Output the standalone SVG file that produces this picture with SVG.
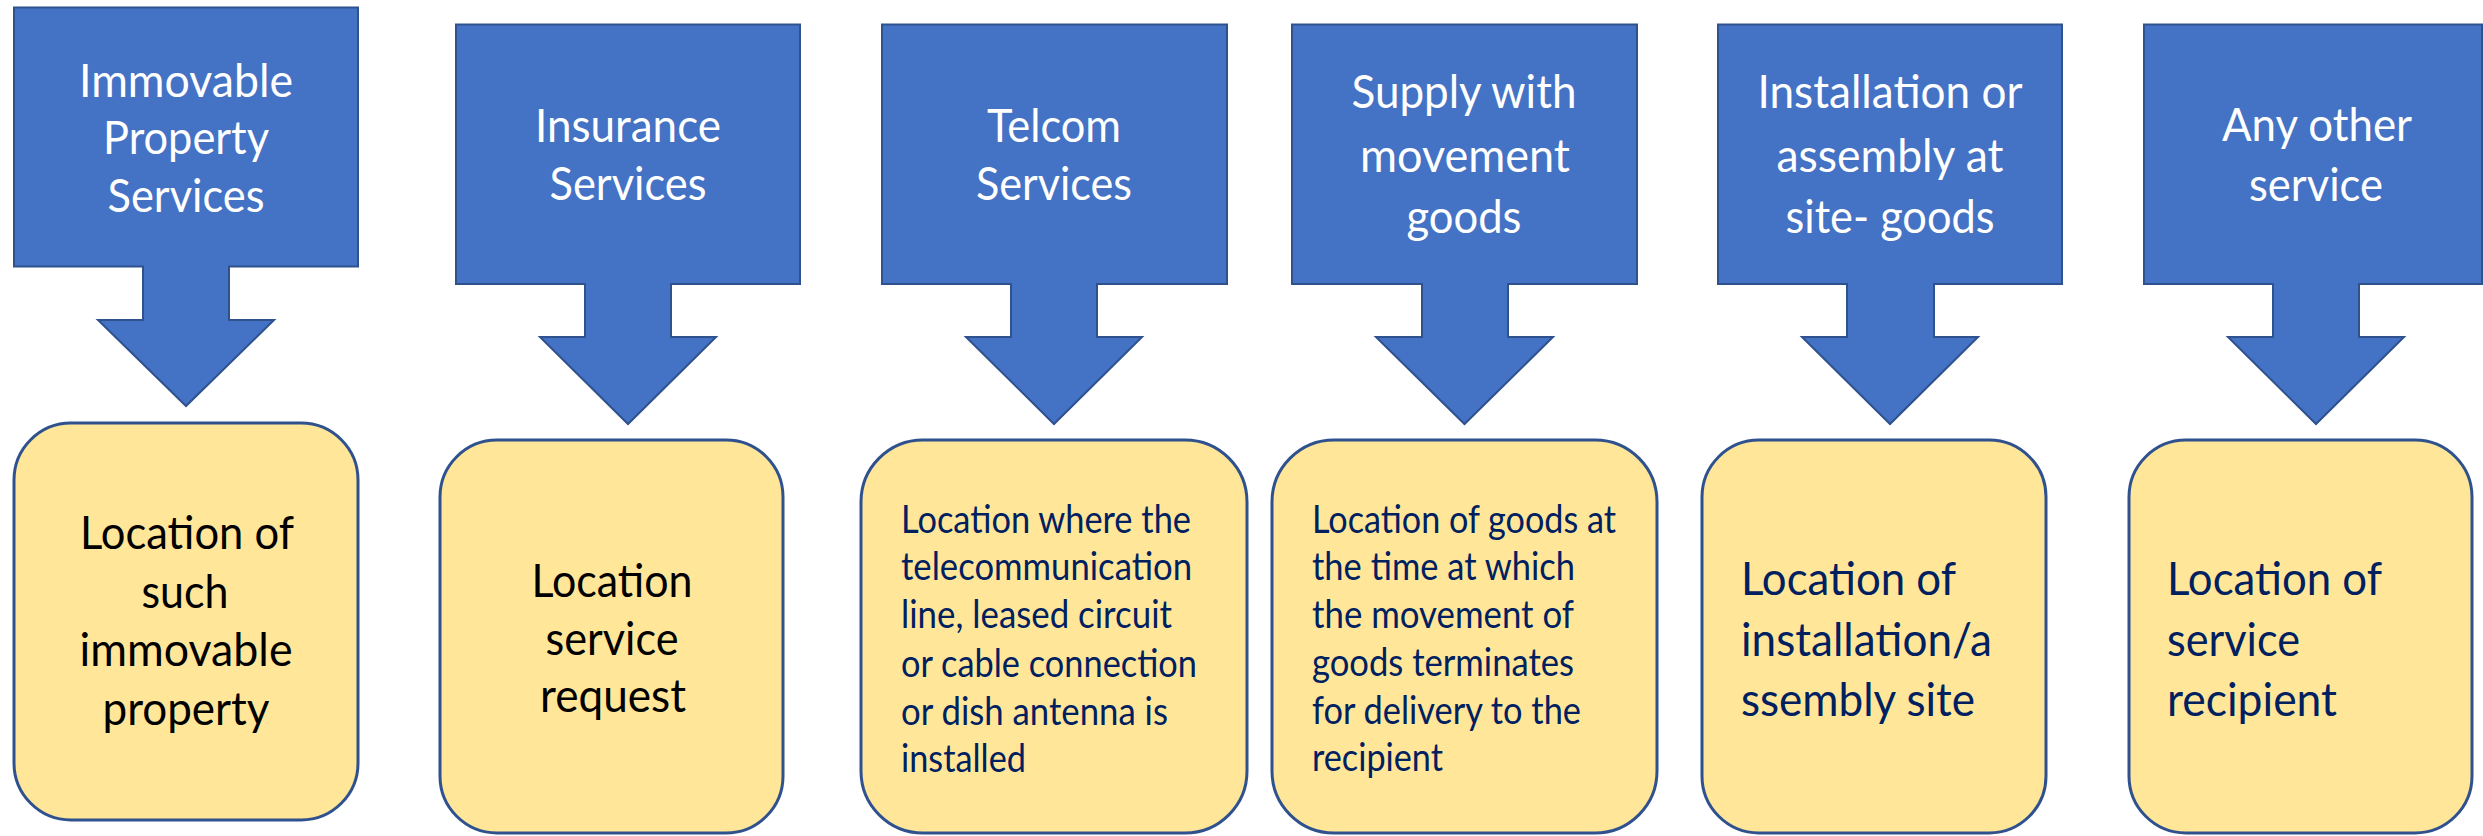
<svg xmlns="http://www.w3.org/2000/svg" width="2483" height="836" viewBox="0 0 2483 836">
  <style>
    .callout { fill: #4472C4; stroke: #2F528F; stroke-width: 2; }
    .place { fill: #FFE699; stroke: #2F528F; stroke-width: 3; }
    text { font-family: Lato, "Open Sans", "Liberation Sans", sans-serif; }
    .title { fill: #FFFFFF; font-size: 46px; text-anchor: middle; }
    .dark { fill: #000000; font-size: 46px; text-anchor: middle; }
    .navy { fill: #002060; font-size: 46px; }
    .small { fill: #002060; font-size: 38px; }
  </style>
  <rect width="2483" height="836" fill="#FFFFFF"/>

  <!-- Column 1: immovable property -->
  <g id="immovable-services">
    <path class="callout" d="M14 7.5 H358 V266.6 H229 V320 H274 L186 406 L98 320 H143 V266.6 H14 Z"/>
    <text class="title" x="186" y="97" textLength="214" lengthAdjust="spacingAndGlyphs">Immovable</text>
    <text class="title" x="186" y="154" textLength="166" lengthAdjust="spacingAndGlyphs">Property</text>
    <text class="title" x="186" y="212" textLength="157" lengthAdjust="spacingAndGlyphs">Services</text>
  </g>
  <g id="immovable-location">
    <rect class="place" x="14" y="423" width="344" height="397" rx="57" ry="57"/>
    <text class="dark" x="187" y="549" textLength="214" lengthAdjust="spacingAndGlyphs">Location of</text>
    <text class="dark" x="185" y="608" textLength="87" lengthAdjust="spacingAndGlyphs">such</text>
    <text class="dark" x="186" y="666" textLength="213" lengthAdjust="spacingAndGlyphs">immovable</text>
    <text class="dark" x="186" y="725" textLength="167" lengthAdjust="spacingAndGlyphs">property</text>
  </g>

  <!-- Column 2: insurance -->
  <g id="insurance-services">
    <path class="callout" d="M456 24.5 H800 V284 H671 V337 H716 L628 424 L540 337 H585 V284 H456 Z"/>
    <text class="title" x="628" y="142" textLength="186" lengthAdjust="spacingAndGlyphs">Insurance</text>
    <text class="title" x="628" y="200" textLength="157" lengthAdjust="spacingAndGlyphs">Services</text>
  </g>
  <g id="insurance-location">
    <rect class="place" x="440" y="440" width="343" height="393" rx="57" ry="57"/>
    <text class="dark" x="612" y="597" textLength="161" lengthAdjust="spacingAndGlyphs">Location</text>
    <text class="dark" x="612" y="655" textLength="133" lengthAdjust="spacingAndGlyphs">service</text>
    <text class="dark" x="613" y="712" textLength="146" lengthAdjust="spacingAndGlyphs">request</text>
  </g>

  <!-- Column 3: telecom -->
  <g id="telcom-services">
    <path class="callout" d="M882 24.5 H1227 V284 H1097 V337 H1142 L1054 424 L966 337 H1011 V284 H882 Z"/>
    <text class="title" x="1054" y="142" textLength="134" lengthAdjust="spacingAndGlyphs">Telcom</text>
    <text class="title" x="1054" y="200" textLength="156" lengthAdjust="spacingAndGlyphs">Services</text>
  </g>
  <g id="telcom-location">
    <rect class="place" x="861" y="440" width="386" height="393" rx="62" ry="62"/>
    <text class="small" x="901" y="533" textLength="290" lengthAdjust="spacingAndGlyphs">Location where the</text>
    <text class="small" x="901" y="580" textLength="291" lengthAdjust="spacingAndGlyphs">telecommunication</text>
    <text class="small" x="901" y="628" textLength="271" lengthAdjust="spacingAndGlyphs">line, leased circuit</text>
    <text class="small" x="901" y="677" textLength="296" lengthAdjust="spacingAndGlyphs">or cable connection</text>
    <text class="small" x="901" y="725" textLength="267" lengthAdjust="spacingAndGlyphs">or dish antenna is</text>
    <text class="small" x="901" y="772" textLength="125" lengthAdjust="spacingAndGlyphs">installed</text>
  </g>

  <!-- Column 4: goods with movement -->
  <g id="movement-goods">
    <path class="callout" d="M1292 24.5 H1637 V284 H1508 V337 H1553 L1464.5 424 L1376 337 H1422 V284 H1292 Z"/>
    <text class="title" x="1464" y="108" textLength="225" lengthAdjust="spacingAndGlyphs">Supply with</text>
    <text class="title" x="1465" y="172" textLength="210" lengthAdjust="spacingAndGlyphs">movement</text>
    <text class="title" x="1464" y="233" textLength="115" lengthAdjust="spacingAndGlyphs">goods</text>
  </g>
  <g id="movement-location">
    <rect class="place" x="1272" y="440" width="385" height="393" rx="62" ry="62"/>
    <text class="small" x="1312" y="533" textLength="304" lengthAdjust="spacingAndGlyphs">Location of goods at</text>
    <text class="small" x="1312" y="580" textLength="263" lengthAdjust="spacingAndGlyphs">the time at which</text>
    <text class="small" x="1312" y="628" textLength="262" lengthAdjust="spacingAndGlyphs">the movement of</text>
    <text class="small" x="1312" y="676" textLength="262" lengthAdjust="spacingAndGlyphs">goods terminates</text>
    <text class="small" x="1312" y="724" textLength="269" lengthAdjust="spacingAndGlyphs">for delivery to the</text>
    <text class="small" x="1312" y="771" textLength="131" lengthAdjust="spacingAndGlyphs">recipient</text>
  </g>

  <!-- Column 5: installation / assembly -->
  <g id="installation-goods">
    <path class="callout" d="M1718 24.5 H2062 V284 H1934 V337 H1978 L1890 424 L1802 337 H1847 V284 H1718 Z"/>
    <text class="title" x="1890" y="108" textLength="265" lengthAdjust="spacingAndGlyphs">Installation or</text>
    <text class="title" x="1890" y="172" textLength="227" lengthAdjust="spacingAndGlyphs">assembly at</text>
    <text class="title" x="1890" y="233" textLength="209" lengthAdjust="spacingAndGlyphs">site- goods</text>
  </g>
  <g id="installation-location">
    <rect class="place" x="1702" y="440" width="344" height="393" rx="57" ry="57"/>
    <text class="navy" x="1741" y="595" textLength="215" lengthAdjust="spacingAndGlyphs">Location of</text>
    <text class="navy" x="1741" y="656" textLength="251" lengthAdjust="spacingAndGlyphs">installation/a</text>
    <text class="navy" x="1741" y="716" textLength="234" lengthAdjust="spacingAndGlyphs">ssembly site</text>
  </g>

  <!-- Column 6: any other service -->
  <g id="other-service">
    <path class="callout" d="M2144 24.5 H2482 V284 H2359 V337 H2404 L2316 424 L2228 337 H2273 V284 H2144 Z"/>
    <text class="title" x="2317" y="141" textLength="190" lengthAdjust="spacingAndGlyphs">Any other</text>
    <text class="title" x="2316" y="201" textLength="134" lengthAdjust="spacingAndGlyphs">service</text>
  </g>
  <g id="other-location">
    <rect class="place" x="2129" y="440" width="343" height="393" rx="57" ry="57"/>
    <text class="navy" x="2167" y="595" textLength="215" lengthAdjust="spacingAndGlyphs">Location of</text>
    <text class="navy" x="2167" y="656" textLength="133" lengthAdjust="spacingAndGlyphs">service</text>
    <text class="navy" x="2167" y="716" textLength="170" lengthAdjust="spacingAndGlyphs">recipient</text>
  </g>
</svg>
